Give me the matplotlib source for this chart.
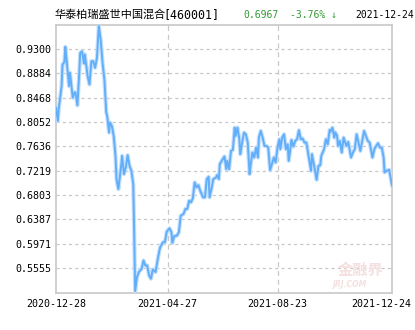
import numpy as np
import matplotlib
matplotlib.use("Agg")
import matplotlib.pyplot as plt
import matplotlib.dates as mdates
import matplotlib.transforms as mtrans
from datetime import date, timedelta

fund_name = "华泰柏瑞盛世中国混合"
fund_code = "[460001]"
last_nav = "0.6967"
last_change = "-3.76% ↓"
last_date = "2021-12-24"

start_date = date(2020, 12, 28)
day_offsets = [0, 2, 3, 4, 6, 7, 9, 10, 11, 14, 15, 16, 18, 20, 21, 23, 25, 26, 28, 30,
               31, 34, 36, 38, 40, 42, 44, 46, 48, 50, 52, 54, 55, 57, 58, 60, 62, 63, 64, 65,
               67, 70, 71, 73, 75, 77, 79, 81, 83, 84, 85, 87, 89, 92, 94, 96, 98, 100, 102, 104,
               107, 109, 111, 112, 115, 117, 119, 122, 124, 125, 127, 130, 132, 134, 137, 139, 141, 143, 145, 147,
               149, 151, 153, 155, 158, 160, 162, 164, 165, 167, 169, 172, 173, 175, 176, 178, 181, 183, 184, 186,
               188, 190, 192, 193, 195, 197, 198, 200, 202, 204, 206, 208, 209, 211, 213, 215, 217, 218, 220, 222,
               224, 226, 228, 230, 232, 234, 236, 238, 240, 241, 243, 245, 247, 249, 250, 252, 253, 255, 257, 259,
               261, 263, 265, 267, 269, 272, 274, 275, 278, 280, 282, 284, 285, 288, 290, 292, 294, 295, 297, 299,
               300, 302, 303, 305, 307, 309, 312, 314, 317, 319, 321, 323, 325, 327, 331, 333, 335, 337, 340, 342,
               344, 346, 348, 350, 352, 353, 355, 358, 361]
nav_values = [0.8296, 0.8068, 0.8296, 0.8408, 0.8664, 0.9033, 0.9072, 0.9334, 0.9174, 0.8664,
              0.8892, 0.8749, 0.8466, 0.8561, 0.8551, 0.8335, 0.8892, 0.9232, 0.9259, 0.9050,
              0.9203, 0.8834, 0.8692, 0.9089, 0.9089, 0.8977, 0.9147, 0.9690, 0.9458, 0.9062,
              0.8778, 0.8216, 0.8153, 0.7870, 0.8041, 0.7983, 0.7813, 0.7642, 0.7450, 0.7076,
              0.6905, 0.7302, 0.7472, 0.7161, 0.7275, 0.7484, 0.7302, 0.7217, 0.6990, 0.6173,
              0.5165, 0.5402, 0.5488, 0.5544, 0.5685, 0.5600, 0.5600, 0.5430, 0.5374, 0.5532,
              0.5488, 0.5680, 0.5850, 0.5913, 0.5998, 0.5998, 0.6179, 0.6236, 0.6168, 0.5986,
              0.6100, 0.6111, 0.6168, 0.6451, 0.6480, 0.6565, 0.6565, 0.6706, 0.6679, 0.6747,
              0.7019, 0.6934, 0.6973, 0.6876, 0.6764, 0.6764, 0.7076, 0.7115, 0.6764, 0.6905,
              0.7076, 0.7104, 0.7144, 0.7076, 0.7331, 0.7387, 0.7462, 0.7246, 0.7387, 0.7246,
              0.7557, 0.7574, 0.7955, 0.7813, 0.7955, 0.7756, 0.7501, 0.7700, 0.7870, 0.7841,
              0.7700, 0.7161, 0.7302, 0.7530, 0.7445, 0.7615, 0.7445, 0.7785, 0.7898, 0.7785,
              0.7642, 0.7642, 0.7615, 0.7229, 0.7331, 0.7445, 0.7360, 0.7615, 0.7756, 0.7586,
              0.7785, 0.7841, 0.7586, 0.7671, 0.7387, 0.7615, 0.7744, 0.7632, 0.7727, 0.7756,
              0.7910, 0.7756, 0.7768, 0.7700, 0.7700, 0.7416, 0.7217, 0.7501, 0.7246, 0.7064,
              0.7302, 0.7314, 0.7472, 0.7586, 0.7756, 0.7671, 0.7915, 0.7887, 0.7955, 0.7785,
              0.7875, 0.7813, 0.7642, 0.7727, 0.7530, 0.7785, 0.7642, 0.7710, 0.7445, 0.7530,
              0.7586, 0.7841, 0.7700, 0.7557, 0.7898, 0.7813, 0.7727, 0.7700, 0.7445, 0.7586,
              0.7642, 0.7688, 0.7615, 0.7615, 0.7445, 0.7190, 0.7217, 0.7234, 0.6967]

y_ticks = [0.5555, 0.5971, 0.6387, 0.6803, 0.7219, 0.7636, 0.8052, 0.8468, 0.8884, 0.9300]
y_min, y_max = 0.5139, 0.9716
x_tick_labels = ["2020-12-28", "2021-04-27", "2021-08-23", "2021-12-24"]

dates = [start_date + timedelta(days=d) for d in day_offsets]
x_ticks = [date.fromisoformat(s) for s in x_tick_labels]

W, H = 415, 330
fig = plt.figure(figsize=(W / 100, H / 100), dpi=100)
ax = fig.add_axes([56 / W, (H - 292.5) / H, 336 / W, 268 / H])

mono = ["DejaVu Sans Mono"]
cjk = ["Noto Sans CJK SC", "DejaVu Sans"]

ax.plot(dates, nav_values, color="#c4e0ff", lw=3.0, solid_joinstyle="round", zorder=3)
ax.plot(dates, nav_values, color="#62aef8", lw=1.4, solid_joinstyle="round", zorder=4)

ax.set_ylim(y_min, y_max)
ax.set_xlim(x_ticks[0], x_ticks[-1])
ax.set_yticks(y_ticks)
ax.set_yticklabels([f"{v:.4f}" for v in y_ticks], fontfamily=mono, fontsize=7.2)
ax.set_xticks(x_ticks)
ax.set_xticklabels(x_tick_labels, fontfamily=mono, fontsize=7.2)
ax.tick_params(length=0, pad=3, colors="black")
ax.tick_params(axis="x", pad=5)
last_lbl = ax.get_xticklabels()[-1]
last_lbl.set_transform(last_lbl.get_transform() + mtrans.ScaledTranslation(-11 / 100, 0, fig.dpi_scale_trans))

for v in y_ticks:
    ax.axhline(v, color="#c8c8c8", lw=0.9, ls=(0, (2.5, 2.5)), zorder=1)
for d in x_ticks[1:3]:
    ax.axvline(d, color="#c8c8c8", lw=0.9, ls=(0, (4, 3)), zorder=1)

for s in ax.spines.values():
    s.set_color("#c8c8c8")
    s.set_linewidth(1.2)

# watermark
ax.text(0.975, 0.085, "金融界", transform=ax.transAxes, fontfamily=cjk, fontsize=11,
        color="#f5e0e0", ha="right", va="center", fontweight="bold", zorder=2)
ax.text(0.925, 0.028, "JRJ.COM", transform=ax.transAxes, fontfamily=["DejaVu Sans"], fontsize=5.5,
        color="#f5e0e0", ha="right", va="center", fontstyle="italic", fontweight="bold", zorder=2)

ty = 1 - 15 / H
fig.text(55 / W, ty, fund_name, fontfamily=cjk, fontsize=8, va="center", ha="left")
fig.text(163 / W, ty, fund_code, fontfamily=mono, fontsize=8.4, va="center", ha="left")
fig.text(243 / W, ty, last_nav, fontfamily=mono, fontsize=7.0, va="center", ha="left", color="#339933")
fig.text(290 / W, ty, last_change, fontfamily=mono, fontsize=7.0, va="center", ha="left", color="#339933")
fig.text(414 / W, ty, last_date, fontfamily=mono, fontsize=7.0, va="center", ha="right")

fig.savefig("out.png", dpi=100, facecolor="white")
